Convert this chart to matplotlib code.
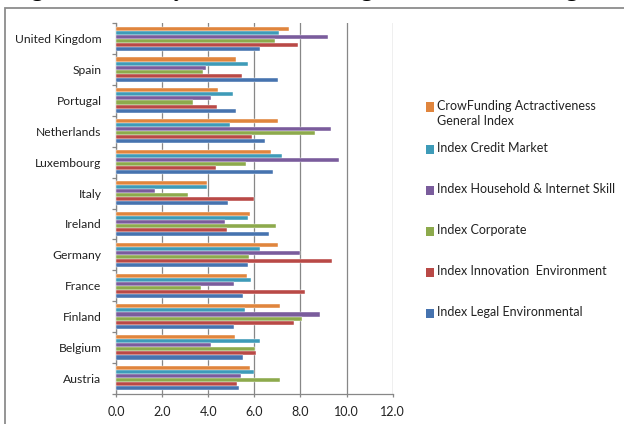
import matplotlib
matplotlib.use("Agg")
import matplotlib.pyplot as plt
import numpy as np
from matplotlib.patches import Rectangle

# Countries, bottom to top
countries = ["Austria", "Belgium", "Finland", "France", "Germany", "Ireland",
             "Italy", "Luxembourg", "Netherlands", "Portugal", "Spain", "United Kingdom"]

series_names = [
    "CrowFunding Actractiveness\nGeneral Index",
    "Index Credit Market",
    "Index Household & Internet Skill",
    "Index Corporate",
    "Index Innovation  Environment",
    "Index Legal Environmental",
]
series_colors = ["#E0853D", "#3E9BB8", "#7A5C9C", "#8DAA4C", "#B94946", "#4673AF"]

general_index = [5.79, 5.17, 7.10, 5.66, 7.01, 5.79, 3.96, 6.73, 7.04, 4.42, 5.19, 7.49]
credit_market = [5.97, 6.24, 5.58, 5.84, 6.23, 5.71, 3.96, 7.21, 4.96, 5.09, 5.71, 7.08]
household_internet = [5.40, 4.12, 8.86, 5.10, 7.98, 4.74, 1.68, 9.65, 9.31, 4.12, 3.89, 9.20]
corporate = [7.12, 6.03, 8.05, 3.68, 5.75, 6.95, 3.11, 5.62, 8.63, 3.32, 3.76, 6.91]
innovation = [5.26, 6.05, 7.70, 8.19, 9.35, 4.83, 5.97, 4.34, 5.90, 4.38, 5.45, 7.88]
legal = [5.32, 5.49, 5.13, 5.49, 5.71, 6.65, 4.87, 6.82, 6.46, 5.22, 7.04, 6.23]

all_series = [general_index, credit_market, household_internet, corporate, innovation, legal]

x_ticks = [0, 2, 4, 6, 8, 10, 12]

W, H = 624, 424
fig = plt.figure(figsize=(W / 100, H / 100), dpi=100)


def fx(px):
    return px / W


def fy(py):
    return 1 - py / H


font = ["Lato", "DejaVu Sans"]
text_color = "#222222"
grid_color = "#878787"

# Chart-area frame
fig.add_artist(Rectangle((fx(4.5), fy(440)), fx(700), 1 - fy(440) - (1 - fy(8)),
                         transform=fig.transFigure, fill=False,
                         edgecolor="#8C8C8C", linewidth=1.3))

# Heading line above the chart
fig.text(fx(12), fy(-4), "Figure 4: Country Score and Ranking of the Crowdfunding Attractiveness",
         fontsize=16, fontweight="bold", family=["Liberation Serif", "DejaVu Serif"],
         ha="left", va="baseline", color="black")

ax = fig.add_axes([fx(116), fy(393.7), fx(392.7) - fx(116), fy(23.3) - fy(393.7)])

y = np.arange(len(countries))
bar_h = 0.131
n = len(all_series)
for j, (vals, col) in enumerate(zip(all_series, series_colors)):
    offset = ((n - 1) / 2 - j) * bar_h
    ax.barh(y + offset, vals, height=bar_h, color=col,
            edgecolor="#FFFFFF", linewidth=0.3, zorder=3)

ax.set_xlim(0, 12)
ax.set_ylim(-0.5, len(countries) - 0.5)

ax.set_xticks(x_ticks)
ax.set_xticklabels([f"{v:.1f}" for v in x_ticks], fontsize=9, family=font, color=text_color)
ax.set_yticks(y)
ax.set_yticklabels(countries, fontsize=8.7, family=font, color=text_color)
ax.set_yticks(np.arange(-0.5, len(countries), 1), minor=True)

ax.tick_params(axis="y", which="major", length=0, pad=10.5)
ax.tick_params(axis="y", which="minor", length=3, color=grid_color, width=0.9)
ax.tick_params(axis="x", which="major", length=2, color=grid_color, width=0.9, pad=7)

ax.grid(axis="x", color=grid_color, linewidth=0.9, zorder=0)
for side in ["top", "right"]:
    ax.spines[side].set_visible(False)
for side in ["left", "bottom"]:
    ax.spines[side].set_color(grid_color)
    ax.spines[side].set_linewidth(0.9)
ax.set_facecolor("none")

# Legend on the right
legend_y = [107, 149, 190, 231, 272, 313]
for name, col, ly in zip(series_names, series_colors, legend_y):
    fig.add_artist(Rectangle((fx(425.5), fy(ly + 4.5)), fx(9), fy(ly - 4.5) - fy(ly + 4.5),
                             transform=fig.transFigure, facecolor=col, edgecolor="none"))
    fig.text(fx(437), fy(ly - 7), name, fontsize=9, family=font, color=text_color,
             ha="left", va="top", linespacing=1.3)

fig.savefig("out.png", dpi=100)
